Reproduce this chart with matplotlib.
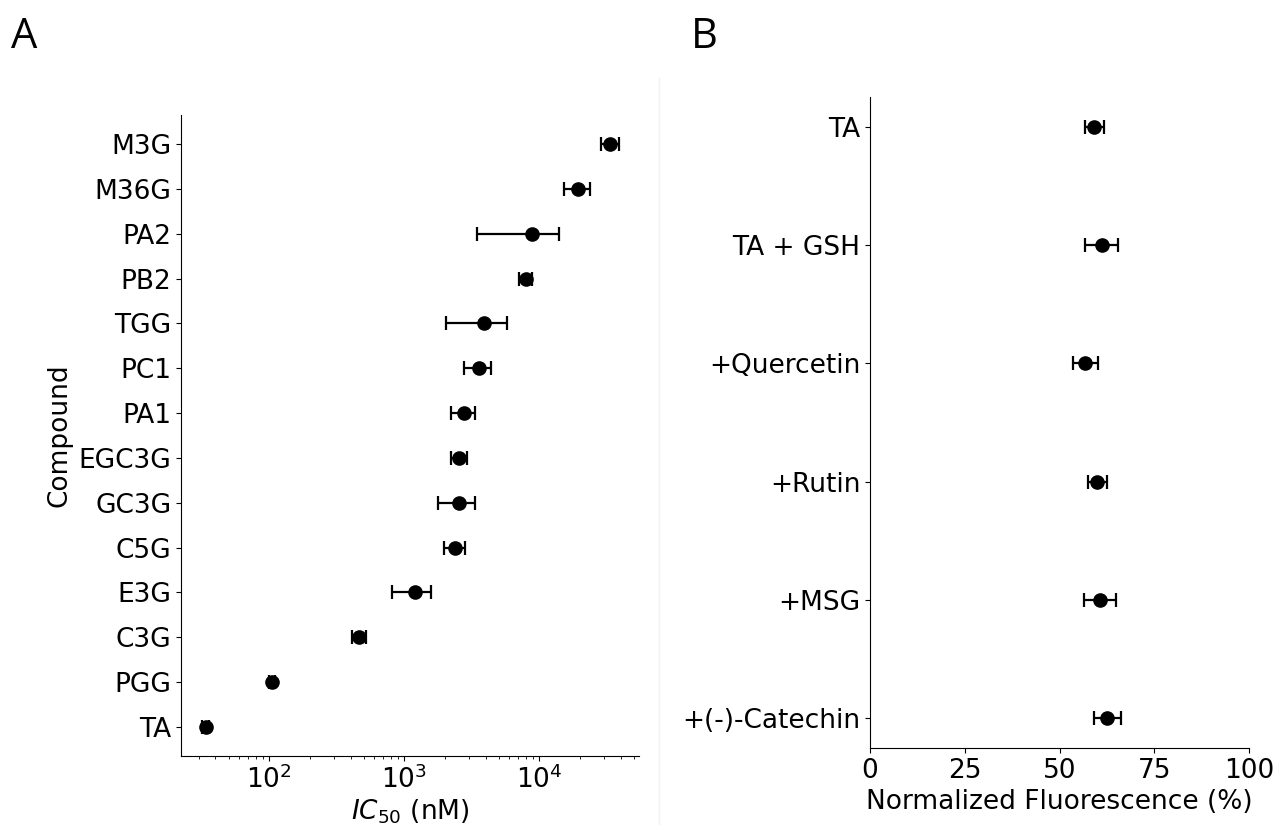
import numpy as np
import matplotlib
matplotlib.use("Agg")
import matplotlib.pyplot as plt
from matplotlib.lines import Line2D

# -- Panel A: IC50 per compound (bottom to top) --
compounds = ["TA", "PGG", "C3G", "E3G", "C5G", "GC3G", "EGC3G",
             "PA1", "PC1", "TGG", "PB2", "PA2", "M36G", "M3G"]
ic50 = [34, 105, 461, 1200, 2370, 2550, 2550,
        2750, 3560, 3870, 7930, 8830, 19400, 33400]
ic50_lo = [32, 100, 407, 811, 1960, 1780, 2210,
           2210, 2770, 2030, 7120, 3480, 15200, 28600]
ic50_hi = [36, 110, 520, 1585, 2810, 3360, 2930,
           3360, 4380, 5740, 8890, 14100, 23800, 38700]

# -- Panel B: normalized fluorescence (top to bottom) --
conditions = ["TA", "TA + GSH", "+Quercetin", "+Rutin", "+MSG", "+(-)-Catechin"]
fluor = [59.1, 61.2, 56.8, 59.9, 60.6, 62.4]
fluor_lo = [56.7, 56.7, 53.6, 57.5, 56.4, 59.1]
fluor_hi = [61.7, 65.5, 60.0, 62.6, 64.9, 66.1]

FS = 19
plt.rcParams["font.size"] = FS

fig = plt.figure(figsize=(12.77, 8.25), dpi=100)

err_kw = dict(fmt="o", color="black", ecolor="black", markersize=9.5,
              elinewidth=1.6, capsize=5, capthick=1.6)

# Panel A
axA = fig.add_axes([0.1417, 0.0836, 0.3587, 0.777])
yA = np.arange(len(compounds))
ic50 = np.array(ic50)
xerrA = [ic50 - np.array(ic50_lo), np.array(ic50_hi) - ic50]
axA.errorbar(ic50, yA, xerr=xerrA, **err_kw)
axA.set_xscale("log")
axA.set_xlim(22.2, 54700)
axA.set_ylim(-0.65, len(compounds) - 0.35)
axA.set_yticks(yA)
axA.set_yticklabels(compounds)
axA.set_xlabel("$IC_{50}$ (nM)", fontsize=FS, labelpad=2)
axA.set_ylabel("Compound", fontsize=FS)
axA.tick_params(labelsize=FS)
for s in ["top", "right"]:
    axA.spines[s].set_visible(False)

# Panel B
axB = fig.add_axes([0.6813, 0.0933, 0.297, 0.789])
yB = np.arange(len(conditions))
fluor = np.array(fluor)
xerrB = [fluor - np.array(fluor_lo), np.array(fluor_hi) - fluor]
axB.errorbar(fluor, yB, xerr=xerrB, **err_kw)
axB.set_xlim(0, 100)
axB.set_xticks([0, 25, 50, 75, 100])
axB.set_ylim(len(conditions) - 0.75, -0.25)
axB.set_yticks(yB)
axB.set_yticklabels(conditions)
axB.set_xlabel("Normalized Fluorescence (%)", fontsize=FS)
axB.tick_params(labelsize=FS)
for s in ["top", "right"]:
    axB.spines[s].set_visible(False)

# Faint divider between the two panels
fig.add_artist(Line2D([0.516, 0.516], [0.0, 0.905], transform=fig.transFigure,
                      color="#f2f2f2", linewidth=1))

# Panel letters
fig.text(0.009, 0.942, "A", fontsize=30, family="Open Sans", va="baseline")
fig.text(0.541, 0.942, "B", fontsize=30, family="Open Sans", va="baseline")

fig.savefig("out.png", dpi=100)
